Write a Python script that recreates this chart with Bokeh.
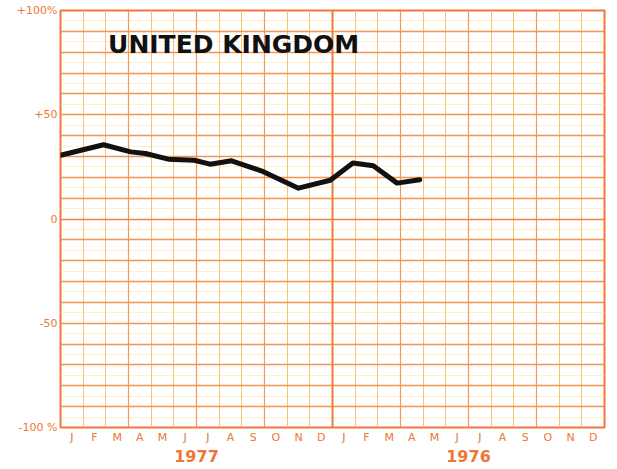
from bokeh.plotting import figure
from bokeh.models import FixedTicker, Grid, LinearAxis, Label, Range1d
from bokeh.embed import file_html
from bokeh.resources import INLINE

# ---- data ----
months_1977 = ["J", "F", "M", "A", "M", "J", "J", "A", "S", "O", "N", "D"]
months_1976 = ["J", "F", "M", "A", "M", "J", "J", "A", "S", "O", "N", "D"]
year_labels = ["1977", "1976"]
y_ticks = [100, 50, 0, -50, -100]
y_tick_labels = ["+100%", "+50", "0", "-50", "-100 %"]
# month index (0 = start of Jan 1977) and percent change
uk_month = [0.0, 1.9, 3.1, 3.75, 4.75, 5.9, 6.6, 7.55, 8.95, 10.5, 11.9, 12.9, 13.8, 14.85, 15.85]
uk_pct = [30.6, 35.6, 32.2, 31.4, 28.7, 28.2, 26.3, 27.9, 22.7, 14.8, 18.6, 26.9, 25.5, 17.2, 18.8]
title_text = "UNITED KINGDOM"

ORANGE = "#f07838"
TXT = "#ee7636"

month_labels = months_1977 + months_1976
n_months = len(month_labels)

p = figure(width=610, height=465, output_backend="svg", toolbar_location=None,
           x_range=Range1d(0, n_months), y_range=Range1d(-100, 100),
           min_border_left=60, min_border_right=6, min_border_top=10, min_border_bottom=38)
p.background_fill_color = "white"
p.border_fill_color = "white"
p.outline_line_color = ORANGE
p.outline_line_width = 2
p.grid.visible = False

# grids
minor_h = [v for v in range(-95, 100, 5) if v % 10 != 0]
p.add_layout(Grid(dimension=1, ticker=FixedTicker(ticks=minor_h),
                  grid_line_color="#fbe39a", grid_line_alpha=0.55, grid_line_width=1))
p.add_layout(Grid(dimension=0, ticker=FixedTicker(ticks=[m for m in range(1, n_months) if m % 3 != 0]),
                  grid_line_color="#f8c070", grid_line_width=1))
p.add_layout(Grid(dimension=0, ticker=FixedTicker(ticks=[m for m in range(3, n_months, 3) if m % 12 != 0]),
                  grid_line_color="#f39858", grid_line_width=1.2))
p.add_layout(Grid(dimension=1, ticker=FixedTicker(ticks=[v for v in range(-90, 100, 10) if v != 0]),
                  grid_line_color="#f39450", grid_line_width=1.3))
p.add_layout(Grid(dimension=1, ticker=FixedTicker(ticks=[0]),
                  grid_line_color="#f08442", grid_line_width=1.5))
p.add_layout(Grid(dimension=0, ticker=FixedTicker(ticks=[12]),
                  grid_line_color="#f07c3c", grid_line_width=2))

# data line
p.line(uk_month, uk_pct, line_color="#111111", line_width=5, line_join="round", line_cap="round")

# title
p.add_layout(Label(x=2.1, y=83.5, text=title_text, text_font="DejaVu Sans",
                   text_font_style="bold", text_font_size="25px", text_color="#111111",
                   text_baseline="middle"))

def clean(ax):
    ax.axis_line_color = None
    ax.major_tick_line_color = None
    ax.minor_tick_line_color = None
    ax.major_tick_out = 0
    ax.major_tick_in = 0
    ax.minor_tick_out = 0
    ax.minor_tick_in = 0
    ax.major_label_text_color = TXT
    ax.major_label_text_font = "DejaVu Sans"

# y axis
ya = p.yaxis[0]
ya.ticker = FixedTicker(ticks=y_ticks)
ya.major_label_overrides = dict(zip(y_ticks, y_tick_labels))
clean(ya)
ya.major_label_standoff = 3
ya.major_label_text_font_size = "11px"

# month axis
xa = p.xaxis[0]
mids = [i + 0.5 for i in range(n_months)]
xa.ticker = FixedTicker(ticks=mids)
xa.major_label_overrides = dict(zip(mids, month_labels))
clean(xa)
xa.major_label_standoff = 3
xa.major_label_text_font_size = "11px"

# year axis
year_pos = [6, 18]
ya2 = LinearAxis(ticker=FixedTicker(ticks=year_pos),
                 major_label_overrides=dict(zip(year_pos, year_labels)))
clean(ya2)
ya2.major_label_standoff = 3
ya2.major_label_text_font_style = "bold"
ya2.major_label_text_font_size = "16px"
p.add_layout(ya2, "below")

open("out.html", "w").write(file_html(p, INLINE))
